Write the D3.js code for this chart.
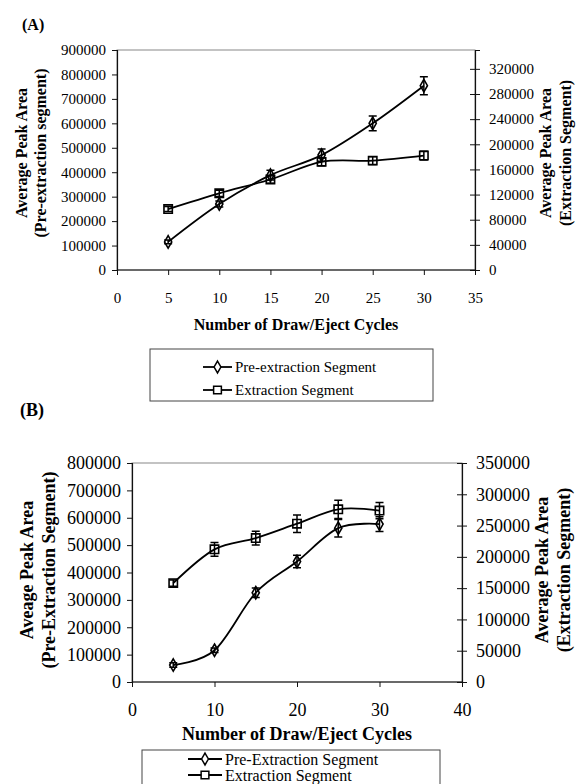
<!DOCTYPE html>
<html>
<head>
<meta charset="utf-8">
<script src="https://cdn.jsdelivr.net/npm/d3@7"></script>
<style>
  body { margin: 0; background: #fff; }
  svg { display: block; font-family: "Liberation Serif", "Times New Roman", serif; }
</style>
</head>
<body>
<svg id="chart" width="580" height="784"></svg>
<script>
// Data
const cycles = [5, 10, 15, 20, 25, 30];

// Panel A
const preA    = [115000, 270000, 388000, 470000, 600000, 754000];
const preAErr = [8000, 12000, 20000, 25000, 30000, 37000];
const extA    = [97000, 122000, 144000, 172000, 174000, 182000];
const extAErr = [4000, 5000, 6000, 6000, 6000, 7000];

// Panel B
const preB    = [62000, 116000, 326000, 440000, 562000, 577000];
const preBErr = [8000, 8000, 17000, 23000, 32000, 27000];
const extB    = [158000, 212000, 230000, 253000, 276000, 274000];
const extBErr = [5000, 11000, 11000, 14000, 14500, 13000];

// Axis ticks
const xTicksA  = [0, 5, 10, 15, 20, 25, 30, 35];
const yLTicksA = d3.range(0, 900001, 100000);
const yRTicksA = d3.range(0, 320001, 40000);
const xTicksB  = [0, 10, 20, 30, 40];
const yLTicksB = d3.range(0, 800001, 100000);
const yRTicksB = d3.range(0, 350001, 50000);

const svg = d3.select("#chart");

function drawPanel(p) {
  const g = svg.append("g");

  const x = d3.scaleLinear().domain(p.xDomain).range([p.left, p.right]);
  const yL = d3.scaleLinear().domain(p.yLDomain).range([p.bottom, p.top]);
  const yR = d3.scaleLinear().domain(p.yRDomain).range([p.bottom, p.top]);

  // panel letter
  g.append("text").attr("x", p.letterX).attr("y", p.letterY)
    .attr("font-size", p.titleSize).attr("font-weight", "bold").text(p.letter);

  // plot area border (thin grey)
  g.append("rect")
    .attr("x", p.left).attr("y", p.top)
    .attr("width", p.right - p.left).attr("height", p.bottom - p.top)
    .attr("fill", "none").attr("stroke", "#888").attr("stroke-width", 1);

  // axes
  const axL = g.append("g").attr("transform", `translate(${p.left},0)`)
    .call(d3.axisLeft(yL).tickValues(p.yLTicks).tickSize(5).tickPadding(6).tickFormat(d3.format("d")));
  const axR = g.append("g").attr("transform", `translate(${p.right},0)`)
    .call(d3.axisRight(yR).tickValues(p.yRTicks).tickSize(5).tickPadding(9).tickFormat(d3.format("d")));
  axR.selectAll(".tick line").attr("x1", -5);
  const axB = g.append("g").attr("transform", `translate(0,${p.bottom})`)
    .call(d3.axisBottom(x).tickValues(p.xTicks).tickSize(5).tickPadding(p.xPad).tickFormat(d3.format("d")));

  [axL, axR, axB].forEach(a => {
    a.selectAll(".domain").attr("stroke", "#111").attr("stroke-width", 1.2);
    a.selectAll(".tick line").attr("stroke", "#111");
    a.selectAll("text").attr("font-family", "Liberation Serif").attr("font-size", p.tickSize).attr("fill", "#000");
  });
  axB.select(".domain").attr("d", `M${p.left},0H${p.right}`);

  // axis titles
  g.append("text").attr("x", (p.left + p.right) / 2).attr("y", p.xTitleY)
    .attr("text-anchor", "middle").attr("font-size", p.titleSize).attr("font-weight", "bold")
    .text("Number of Draw/Eject Cycles");

  const cy = p.yTitleCenter;
  p.leftTitles.forEach((t, i) => {
    g.append("text")
      .attr("transform", `translate(${p.leftTitleX[i]},${cy}) rotate(-90)`)
      .attr("text-anchor", "middle").attr("dominant-baseline", "central")
      .attr("font-size", p.titleSize).attr("font-weight", "bold").text(t);
  });
  p.rightTitles.forEach((t, i) => {
    g.append("text")
      .attr("transform", `translate(${p.rightTitleX[i]},${cy}) rotate(-90)`)
      .attr("text-anchor", "middle").attr("dominant-baseline", "central")
      .attr("font-size", p.titleSize).attr("font-weight", "bold").text(t);
  });

  // series
  const line = d3.line().curve(d3.curveCardinal.tension(0));
  const series = [
    { vals: p.pre, err: p.preErr, y: yL, shape: d3.symbolDiamond },
    { vals: p.ext, err: p.extErr, y: yR, shape: d3.symbolSquare }
  ];

  series.forEach(s => {
    const pts = cycles.map((c, i) => [x(c), s.y(s.vals[i])]);
    g.append("path").attr("d", line(pts))
      .attr("fill", "none").attr("stroke", "#000").attr("stroke-width", 1.8);

    // error bars
    cycles.forEach((c, i) => {
      const y0 = s.y(s.vals[i] - s.err[i]), y1 = s.y(s.vals[i] + s.err[i]);
      const cx = x(c);
      g.append("path")
        .attr("d", `M${cx},${y0}V${y1}M${cx - 4},${y0}H${cx + 4}M${cx - 4},${y1}H${cx + 4}`)
        .attr("stroke", "#000").attr("stroke-width", 1.5).attr("fill", "none");
    });

    // markers
    g.selectAll(null).data(pts).enter().append("path")
      .attr("transform", d => `translate(${d[0]},${d[1]})`)
      .attr("d", d3.symbol().type(s.shape).size(s.shape === d3.symbolSquare ? 70 : 45))
      .attr("fill", "none").attr("stroke", "#000").attr("stroke-width", 1.6);
  });

  // legend
  const lg = g.append("g");
  lg.append("rect")
    .attr("x", p.legend.x).attr("y", p.legend.y)
    .attr("width", p.legend.w).attr("height", p.legend.h)
    .attr("fill", "#fff").attr("stroke", "#444").attr("stroke-width", 1);
  const items = [
    { label: p.legend.labels[0], shape: d3.symbolDiamond },
    { label: p.legend.labels[1], shape: d3.symbolSquare }
  ];
  items.forEach((it, i) => {
    const ly = p.legend.rows[i];
    lg.append("line").attr("x1", p.legend.lineX0).attr("x2", p.legend.lineX1)
      .attr("y1", ly).attr("y2", ly).attr("stroke", "#000").attr("stroke-width", 1.8);
    lg.append("path")
      .attr("transform", `translate(${(p.legend.lineX0 + p.legend.lineX1) / 2},${ly})`)
      .attr("d", d3.symbol().type(it.shape).size(it.shape === d3.symbolSquare ? 60 : 40))
      .attr("fill", "#fff").attr("stroke", "#000").attr("stroke-width", 1.5);
    lg.append("text").attr("x", p.legend.lineX1 + 3).attr("y", ly)
      .attr("dominant-baseline", "central").attr("font-size", p.legend.size)
      .text(it.label);
  });
}

drawPanel({
  letter: "(A)", letterX: 22, letterY: 30,
  left: 117, right: 475, top: 50, bottom: 270,
  xDomain: [0, 35], yLDomain: [0, 900000], yRDomain: [0, 350000],
  xTicks: xTicksA, yLTicks: yLTicksA, yRTicks: yRTicksA,
  pre: preA, preErr: preAErr, ext: extA, extErr: extAErr,
  tickSize: 15, titleSize: 16, xPad: 17, xTitleY: 330,
  yTitleCenter: 153,
  leftTitles: ["Average Peak Area", "(Pre-extraction segment)"], leftTitleX: [21, 40],
  rightTitles: ["Average Peak Area", "(Extraction Segment)"], rightTitleX: [545, 565],
  legend: { x: 150, y: 349, w: 283, h: 52, rows: [367, 390],
            lineX0: 203, lineX1: 232, size: 15,
            labels: ["Pre-extraction Segment", "Extraction Segment"] }
});

drawPanel({
  letter: "(B)", letterX: 20, letterY: 416,
  left: 132, right: 462, top: 463, bottom: 682,
  xDomain: [0, 40], yLDomain: [0, 800000], yRDomain: [0, 350000],
  xTicks: xTicksB, yLTicks: yLTicksB, yRTicks: yRTicksB,
  pre: preB, preErr: preBErr, ext: extB, extErr: extBErr,
  tickSize: 18, titleSize: 18, xPad: 16, xTitleY: 740,
  yTitleCenter: 570,
  leftTitles: ["Aveage Peak Area", "(Pre-Extraction Segment)"], leftTitleX: [27, 49],
  rightTitles: ["Average Peak Area", "(Extraction Segment)"], rightTitleX: [542, 564],
  legend: { x: 142, y: 750, w: 298, h: 50, rows: [759, 775],
            lineX0: 188, lineX1: 222, size: 16,
            labels: ["Pre-Extraction Segment", "Extraction Segment"] }
});
</script>
</body>
</html>
